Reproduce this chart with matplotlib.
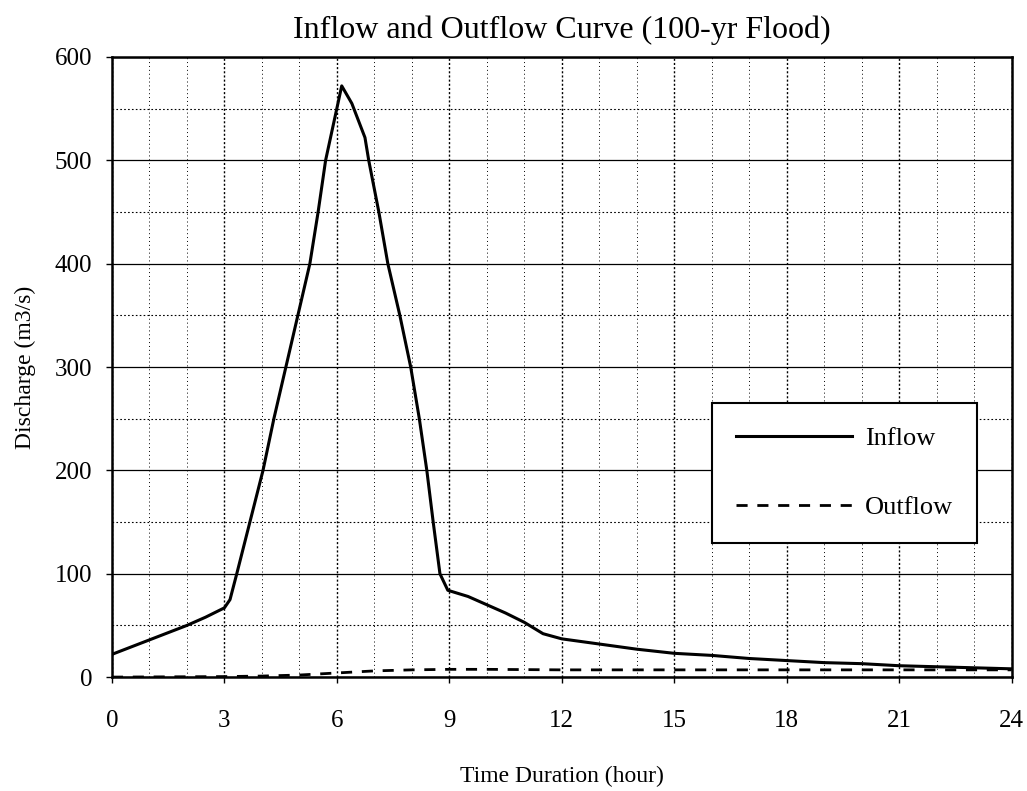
import numpy as np
import matplotlib.pyplot as plt
from matplotlib.ticker import MultipleLocator

plt.rcParams['font.family'] = ['Liberation Serif', 'DejaVu Serif']

# inflow hydrograph (hour, m3/s)
t_in = [0, 0.5, 1, 1.5, 2, 2.5, 3, 3.15, 3.33, 3.68, 4.03, 4.32, 4.64, 4.96,
        5.28, 5.5, 5.7, 6.13, 6.4, 6.75, 6.85, 7.12, 7.36, 7.68, 7.97, 8.2,
        8.4, 8.57, 8.75, 8.96, 9.5, 10, 10.5, 11, 11.5, 12, 13, 14, 15, 16,
        17, 18, 19, 20, 21, 22, 23, 24]
q_in = [22, 29, 36, 43, 50, 58, 67, 75, 100, 150, 200, 250, 300, 350,
        400, 450, 500, 572, 555, 522, 500, 450, 400, 350, 300, 250,
        200, 150, 100, 84, 78, 70, 62, 53, 42, 37, 32, 27, 23, 21,
        18, 16, 14, 13, 11, 10, 9, 8]

# routed outflow
t_out = [0, 3, 4, 5, 6, 7, 8, 9, 10, 12, 15, 18, 21, 24]
q_out = [0, 0.5, 1, 2, 4, 6, 7, 7.5, 7.5, 7, 7, 7, 7, 7]

fig = plt.figure(figsize=(10.27, 7.91), dpi=100, facecolor='white')
ax = fig.add_axes((0.109, 0.144, 0.876, 0.784))

ax.plot(t_in, q_in, 'k-', lw=2.2, label='Inflow')
ax.plot(t_out, q_out, 'k--', lw=2.0, dashes=(4, 3.5), label='Outflow')

ax.set_xlim(0, 24)
ax.set_ylim(0, 600)
ax.xaxis.set_major_locator(MultipleLocator(3))
ax.xaxis.set_minor_locator(MultipleLocator(1))
ax.yaxis.set_major_locator(MultipleLocator(100))
ax.yaxis.set_minor_locator(MultipleLocator(50))

ax.grid(which='major', axis='y', color='k', lw=0.9, ls='-')
ax.grid(which='minor', axis='y', color='k', lw=0.8, ls=(0, (1.5, 2)))
ax.grid(which='major', axis='x', color='k', lw=1.0, ls=(0, (1.5, 1.5)))
ax.grid(which='minor', axis='x', color='k', lw=0.7, ls=(0, (1, 3)))
ax.set_axisbelow(True)

for s in ax.spines.values():
    s.set_linewidth(1.8)
ax.tick_params(which='major', direction='out', length=4, width=1,
               labelsize=18)
ax.tick_params(axis='x', pad=20)
ax.tick_params(axis='y', pad=10)
ax.tick_params(which='minor', length=0)

ax.set_title('Inflow and Outflow Curve (100-yr Flood)', fontsize=23, pad=14)
ax.set_xlabel('Time Duration (hour)', fontsize=17, labelpad=24)
ax.set_ylabel('Discharge (m3/s)', fontsize=17, labelpad=14)

leg = ax.legend(loc='upper left', bbox_to_anchor=(0.667, 0.442),
                borderaxespad=0, fontsize=19, handlelength=4.4,
                labelspacing=1.73, borderpad=0.9, handletextpad=0.5,
                fancybox=False, framealpha=1, edgecolor='k')
leg.get_frame().set_linewidth(1.5)

fig.savefig('out.png', dpi=100)
